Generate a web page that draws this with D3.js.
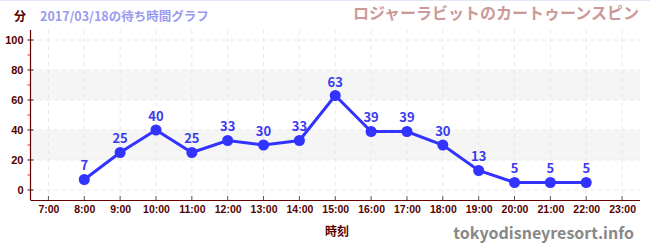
<!DOCTYPE html>
<html><head><meta charset="utf-8">
<script src="https://cdn.jsdelivr.net/npm/d3@7"></script>
<style>
html,body{margin:0;padding:0;background:#fff;}
svg{display:block;font-family:"Noto Sans CJK JP","Noto Sans",sans-serif;}
</style></head><body>
<svg id="c" width="650" height="250"></svg>
<script>
const hours = [8,9,10,11,12,13,14,15,16,17,18,19,20,21,22];
const waits = [7,25,40,25,33,30,33,63,39,39,30,13,5,5,5];
const xTickHours = [7,8,9,10,11,12,13,14,15,16,17,18,19,20,21,22,23];
const yMajor = [0,20,40,60,80,100];
const yMinor = [10,30,50,70,90];
const bands = [[20,40],[60,80]];
const dateTitle = "2017/03/18の待ち時間グラフ";
const rideTitle = "ロジャーラビットのカートゥーンスピン";

const svg = d3.select("#c");
const x = d3.scaleLinear().domain([6.5,23.5]).range([30.5,640]);
const y = d3.scaleLinear().domain([-6.67,106.67]).range([200,30]);

svg.append("line").attr("x1",0).attr("x2",650).attr("y1",0.5).attr("y2",0.5).attr("stroke","#e4e6f8").attr("stroke-width",1);

// bands
svg.selectAll(".band").data(bands).join("rect")
  .attr("x",x(6.5)).attr("width",x(23.5)-x(6.5))
  .attr("y",d=>y(d[1])).attr("height",d=>y(d[0])-y(d[1]))
  .attr("fill","#f5f5f5");

// grid
svg.selectAll(".vg").data(xTickHours).join("line")
  .attr("x1",d=>x(d)).attr("x2",d=>x(d)).attr("y1",30).attr("y2",200)
  .attr("stroke","#e8e8e8").attr("stroke-dasharray","4,4");
svg.selectAll(".hg").data(yMajor).join("line")
  .attr("x1",x(6.5)).attr("x2",x(23.5)).attr("y1",d=>y(d)).attr("y2",d=>y(d))
  .attr("stroke","#e8e8e8").attr("stroke-dasharray","4,4");

// y axis
const ya = svg.append("g").attr("transform",`translate(${x(6.5)},0)`)
  .call(d3.axisLeft(y).tickValues(yMajor).tickSize(0).tickPadding(7));
ya.select(".domain").remove();
ya.selectAll("text").attr("fill","#550000").attr("font-size",11).attr("font-weight","bold");
svg.selectAll(".ymaj").data(yMajor).join("line")
  .attr("x1",x(6.5)-3).attr("x2",x(6.5)+3).attr("y1",d=>y(d)).attr("y2",d=>y(d))
  .attr("stroke","#222").attr("stroke-width",1);
svg.selectAll(".ymin").data(yMinor).join("line")
  .attr("x1",x(6.5)-3).attr("x2",x(6.5)).attr("y1",d=>y(d)).attr("y2",d=>y(d))
  .attr("stroke","#dd3333").attr("stroke-width",1);
svg.append("line").attr("x1",x(6.5)).attr("x2",x(6.5)).attr("y1",30).attr("y2",200)
  .attr("stroke","#660000").attr("stroke-width",1.2);

// x axis
const xa = svg.append("g").attr("transform","translate(0,200)")
  .call(d3.axisBottom(x).tickValues(xTickHours).tickFormat(d=>d+":00").tickSize(0).tickPadding(6));
xa.select(".domain").remove();
xa.selectAll("text").attr("fill","#550000").attr("font-size",10.5).attr("font-weight","bold");
svg.selectAll(".xt").data(xTickHours).join("line")
  .attr("x1",d=>x(d)).attr("x2",d=>x(d)).attr("y1",196).attr("y2",200)
  .attr("stroke","#555").attr("stroke-width",1);
svg.append("line").attr("x1",x(6.5)).attr("x2",x(23.5)).attr("y1",200.5).attr("y2",200.5)
  .attr("stroke","#660000").attr("stroke-width",1.2);

// line
const pts = hours.map((h,i)=>[h,waits[i]]);
svg.append("path").datum(pts)
  .attr("d",d3.line().x(d=>x(d[0])).y(d=>y(d[1])))
  .attr("fill","none").attr("stroke","#3333ff").attr("stroke-width",3);
svg.selectAll(".dot").data(pts).join("circle")
  .attr("cx",d=>x(d[0])).attr("cy",d=>y(d[1])).attr("r",5.5).attr("fill","#3333ff");
svg.selectAll(".lbl").data(pts).join("text")
  .attr("x",d=>x(d[0])).attr("y",d=>y(d[1])-9).attr("text-anchor","middle")
  .attr("fill","#3a3aee").attr("font-size",13).attr("font-weight","bold").text(d=>d[1]);

// titles
svg.append("text").attr("x",20).attr("y",21).attr("text-anchor","middle")
  .attr("fill","#550000").attr("font-size",12).attr("font-weight","bold").text("分");
svg.append("text").attr("x",40).attr("y",21)
  .attr("fill","#9a9af0").attr("font-size",12.5).attr("font-weight","bold").text(dateTitle);
svg.append("text").attr("x",639).attr("y",19).attr("text-anchor","end")
  .attr("fill","#cc9999").attr("font-size",16).attr("font-weight","bold").text(rideTitle);
svg.append("text").attr("x",337).attr("y",236).attr("text-anchor","middle")
  .attr("fill","#550000").attr("font-size",12).attr("font-weight","bold").text("時刻");
svg.append("text").attr("x",634).attr("y",239).attr("text-anchor","end")
  .attr("fill","#888").attr("font-size",16).attr("font-weight","bold").text("tokyodisneyresort.info");
</script></body></html>
